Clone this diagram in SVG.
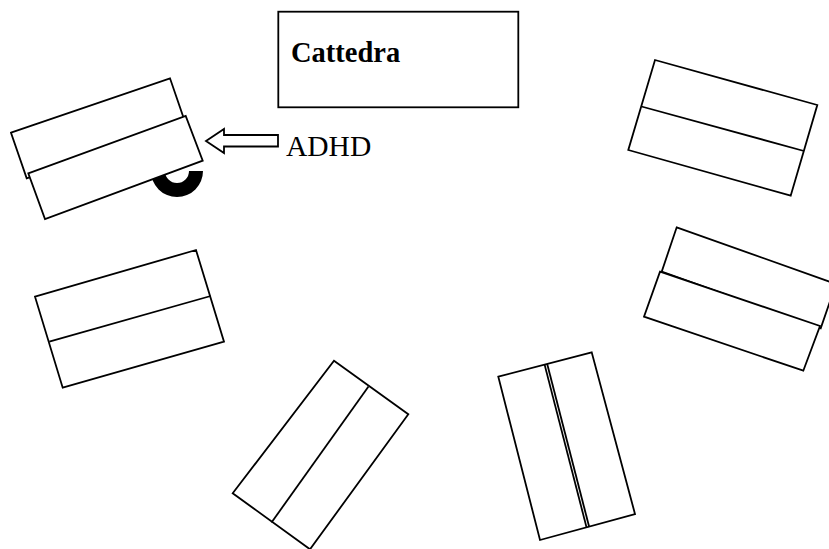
<svg xmlns="http://www.w3.org/2000/svg" width="829" height="549" viewBox="0 0 829 549">
<style>
.d{fill:#fff;stroke:#000;stroke-width:1.8;stroke-linejoin:miter}
.l{fill:none;stroke:#000;stroke-width:1.8}
.t{font-family:"Liberation Serif","Times New Roman",serif;fill:#000}
</style>
<rect width="829" height="549" fill="#fff"/>
<g id="cattedra">
<rect class="d" x="278.3" y="11.7" width="240" height="95.6"/>
<text class="t" x="291" y="61.7" font-size="28.5" font-weight="bold">Cattedra</text>
</g>
<g id="desk-adhd">
<path d="M151,171 A26,26 0 0 0 203,171 Z M165,171 A12,12 0 0 0 189,171 Z" fill="#000" fill-rule="evenodd"/>
<polygon class="d" points="11,132.7 170,78.3 185.7,123.9 26.7,178.3"/>
<polygon class="d" points="28.3,173.3 185.7,116 202.7,160.7 45,219"/>
</g>
<g id="connectors">
<polygon class="d" stroke-width="1.4" points="206,141 224,129 224,135 278,135 278,146.5 224,146.5 224,153"/>
</g>
<g id="adhd-label">
<text class="t" x="286" y="156" font-size="29.5">ADHD</text>
</g>
<g id="desk-right-top">
<polygon class="d" points="655,60 817.3,105 790.7,195.7 628.3,150"/>
<line class="l" x1="641.5" y1="106.5" x2="804" y2="151"/>
</g>
<g id="desk-right-mid">
<polygon class="d" points="676.7,227.3 836,284 820.7,328.3 661.7,271.7"/>
<polygon class="d" points="660,271.7 820,326 803.3,370.7 644,316.7"/>
</g>
<g id="desk-left-mid">
<polygon class="d" points="35,296.7 196,250 224,341.7 62.7,387.7"/>
<line class="l" x1="49.3" y1="341.7" x2="210.7" y2="296"/>
</g>
<g id="desk-bottom-left">
<polygon class="d" points="334,360.7 408.3,414.3 310,549.3 232.7,493.3"/>
<line class="l" x1="368.5" y1="386.5" x2="271.5" y2="522.5"/>
</g>
<g id="desk-bottom-right">
<polygon class="d" points="498.3,376.7 591.7,352.3 635,514 540,540"/>
<line class="l" stroke-width="1.5" x1="544.6" y1="364.6" x2="586.6" y2="527.6"/>
<line class="l" stroke-width="1.5" x1="547.2" y1="364" x2="589.2" y2="527"/>
</g>
</svg>
